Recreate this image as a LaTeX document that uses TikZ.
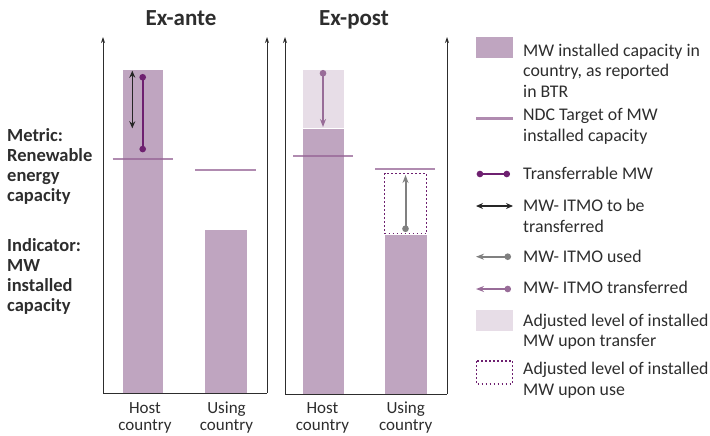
\documentclass[tikz,border=0pt]{standalone}
\usepackage{fontspec}
\setmainfont{Carlito}
\usetikzlibrary{arrows.meta}
\definecolor{ink}{RGB}{45,45,45}
\definecolor{barc}{RGB}{191,165,192}
\definecolor{barlight}{RGB}{231,221,231}
\definecolor{targetc}{RGB}{150,100,150}
\definecolor{transfc}{RGB}{110,32,112}
\definecolor{itmoc}{RGB}{152,108,152}
\definecolor{usedc}{RGB}{128,128,128}
\tikzset{
  axisline/.style={draw=ink, line width=0.9pt, -{Stealth[length=6pt,width=4pt]}},
  baseline/.style={draw=ink, line width=0.9pt},
  bar/.style={fill=barc, draw=none},
  barlow/.style={fill=barlight, draw=none},
  targetline/.style={draw=targetc, line width=2.7pt, draw opacity=0.75},
  transferable/.style={draw=transfc, line width=1.8pt, {Circle[length=6.5pt]}-{Circle[length=6.5pt]}},
  tobetransf/.style={draw=black!85, line width=1.4pt, {Stealth[length=7pt,width=6pt]}-{Stealth[length=7pt,width=6pt]}},
  usedarrow/.style={draw=usedc, line width=2pt, {Circle[length=6.5pt]}-{Stealth[length=8pt,width=6pt]}},
  transfarrow/.style={draw=itmoc, line width=2pt, {Circle[length=6.5pt]}-{Stealth[length=8pt,width=6pt]}},
  usebox/.style={draw=transfc, line width=1.3pt, dash pattern=on 1.6pt off 2.4pt},
  % multi-line nodes: the base anchor sits on the last line
  legtxt/.style={text=ink, inner sep=0, font=\fontsize{17.8}{20.3}\selectfont, align=left, anchor=base west},
  sidetxt/.style={text=ink, inner sep=0, font=\bfseries\fontsize{18.5}{20}\selectfont, align=left, anchor=base west},
  cattxt/.style={text=ink, inner sep=0, font=\fontsize{17}{16.5}\selectfont, align=center, anchor=base},
  titletxt/.style={text=ink, inner sep=0, font=\bfseries\fontsize{23}{24}\selectfont, anchor=base},
}
\begin{document}
\begin{tikzpicture}[x=1pt,y=-1pt]
\useasboundingbox (0,0) rectangle (710,436);

% ---------- titles and side labels ----------
\node[titletxt] (exante) at (181,26) {Ex-ante};
\node[titletxt] (expost) at (354,26) {Ex-post};
\node[sidetxt] (metric) at (7,201.5) {Metric:\\Renewable\\energy\\capacity};
\node[sidetxt] (indic) at (7,311) {Indicator:\\MW\\installed\\capacity};

% ---------- ex-ante panel ----------
\fill[bar] (122.7,70) rectangle (163.3,393);
\fill[bar] (205,230) rectangle (247,393);
\draw[targetline] (112.7,159) -- (172.7,159);
\draw[targetline] (195,170) -- (256,170);
\coordinate (aT1) at (142.7,74);
\coordinate (aT2) at (142.7,152.3);
\draw[transferable] (aT1) -- (aT2);
\coordinate (aB1) at (132.3,70.7);
\coordinate (aB2) at (132.3,128.3);
\draw[tobetransf] (aB1) -- (aB2);
\coordinate (aO) at (103,393);
\coordinate (aR) at (267,393);
\coordinate (aLtop) at (103,37);
\coordinate (aRtop) at (267,37);
\draw[axisline] (aO) -- (aLtop);
\draw[axisline] (aR) -- (aRtop);
\draw[baseline] (aO) -- (aR);
\node[cattxt] (hostA) at (145,430) {Host\\country};
\node[cattxt] (usingA) at (226.5,430) {Using\\country};

% ---------- ex-post panel ----------
\fill[barlow] (303,70) rectangle (344,128);
\fill[bar] (303,129.3) rectangle (344,394);
\fill[bar] (385,234.5) rectangle (427,394);
\draw[targetline] (293,156) -- (353,156);
\draw[targetline] (375,169) -- (435,169);
\draw[usebox] (384.5,173.3) rectangle (426.7,233.3);
\coordinate (pT1) at (323,70);
\coordinate (pT2) at (323,127);
\draw[transfarrow] (pT1) -- (pT2);
\coordinate (pU1) at (405.5,232);
\coordinate (pU2) at (405.5,175);
\draw[usedarrow] (pU1) -- (pU2);
\coordinate (pO) at (285,394);
\coordinate (pR) at (447,394);
\coordinate (pLtop) at (285,37);
\coordinate (pRtop) at (447,37);
\draw[axisline] (pO) -- (pLtop);
\draw[axisline] (pR) -- (pRtop);
\draw[baseline] (pO) -- (pR);
\node[cattxt] (hostP) at (322.5,430) {Host\\country};
\node[cattxt] (usingP) at (405.7,430) {Using\\country};

% ---------- legend ----------
\fill[bar] (476,37.3) rectangle (513,58.3);
\node[legtxt] (lg1) at (523,97) {MW installed capacity in\\country, as reported\\in BTR};
\draw[targetline] (476,118.5) -- (513,118.5);
\node[legtxt] (lg2) at (523,141) {NDC Target of MW\\installed capacity};
\coordinate (k3a) at (476.7,174);
\coordinate (k3b) at (510,174);
\draw[transferable] (k3a) -- (k3b);
\node[legtxt] (lg3) at (523,179) {Transferrable MW};
\coordinate (k4a) at (476,206);
\coordinate (k4b) at (513,206);
\draw[tobetransf] (k4a) -- (k4b);
\node[legtxt] (lg4) at (523,232) {MW- ITMO to be\\transferred};
\coordinate (k5a) at (511,256.7);
\coordinate (k5b) at (476,256.7);
\draw[usedarrow] (k5a) -- (k5b);
\node[legtxt] (lg5) at (523,262) {MW- ITMO used};
\coordinate (k6a) at (511,289);
\coordinate (k6b) at (476,289);
\draw[transfarrow] (k6a) -- (k6b);
\node[legtxt] (lg6) at (523,293.5) {MW- ITMO transferred};
\fill[barlow] (476,310) rectangle (512.7,330.7);
\node[legtxt] (lg7) at (523,346.7) {Adjusted level of installed\\MW upon transfer};
\draw[usebox] (476.5,361) rectangle (512.5,384);
\node[legtxt] (lg8) at (523,395) {Adjusted level of installed\\MW upon use};
\end{tikzpicture}
\end{document}
